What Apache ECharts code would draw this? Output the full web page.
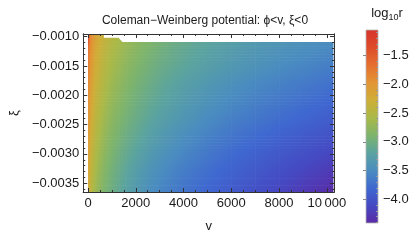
<!DOCTYPE html>
<html><head><meta charset="utf-8">
<script src="https://cdn.jsdelivr.net/npm/echarts@6/dist/echarts.min.js"></script>
<style>html,body{margin:0;padding:0;background:#fff}#c{width:418px;height:248px}</style>
</head><body><div id="c"></div>
<script>
// ---- data ----
const vNodes  = [0, 60, 150, 250, 400, 600, 800, 1000, 1300, 1600, 2000, 2500, 3000, 3500, 4000, 5000, 6000, 7000, 8000, 9000, 10000, 10250];
const xiNodes = [-0.00365, -0.0033, -0.0030, -0.0027, -0.0024, -0.0021, -0.0018, -0.0015, -0.0012, -0.00097];
const logR_xi00365 = [-2.20,-2.35,-2.50,-2.62,-2.74,-2.86,-2.95,-3.02,-3.13,-3.23,-3.33,-3.45,-3.55,-3.63,-3.70,-3.82,-3.93,-4.04,-4.14,-4.25,-4.36,-4.40];
const logR_xi0033  = [-2.12,-2.30,-2.44,-2.56,-2.68,-2.80,-2.90,-2.97,-3.07,-3.17,-3.27,-3.39,-3.48,-3.56,-3.63,-3.75,-3.86,-3.95,-4.05,-4.14,-4.23,-4.26];
const logR_xi0030  = [-2.05,-2.24,-2.38,-2.50,-2.62,-2.74,-2.84,-2.91,-3.01,-3.10,-3.20,-3.31,-3.40,-3.48,-3.55,-3.67,-3.78,-3.87,-3.96,-4.04,-4.12,-4.14];
const logR_xi0027  = [-1.98,-2.18,-2.32,-2.44,-2.56,-2.68,-2.78,-2.85,-2.94,-3.03,-3.12,-3.23,-3.32,-3.40,-3.47,-3.59,-3.69,-3.78,-3.86,-3.94,-4.01,-4.03];
const logR_xi0024  = [-1.92,-2.13,-2.26,-2.38,-2.50,-2.62,-2.72,-2.79,-2.88,-2.96,-3.05,-3.15,-3.24,-3.31,-3.38,-3.50,-3.60,-3.68,-3.76,-3.83,-3.90,-3.92];
const logR_xi0021  = [-1.86,-2.07,-2.20,-2.32,-2.44,-2.56,-2.66,-2.73,-2.82,-2.90,-2.99,-3.09,-3.17,-3.24,-3.31,-3.42,-3.52,-3.60,-3.67,-3.74,-3.81,-3.82];
const logR_xi0018  = [-1.80,-2.01,-2.14,-2.26,-2.38,-2.50,-2.60,-2.67,-2.76,-2.84,-2.93,-3.02,-3.11,-3.18,-3.24,-3.35,-3.44,-3.52,-3.59,-3.65,-3.71,-3.73];
const logR_xi0015  = [-1.72,-1.94,-2.08,-2.20,-2.32,-2.44,-2.54,-2.61,-2.70,-2.78,-2.87,-2.96,-3.04,-3.10,-3.16,-3.26,-3.35,-3.42,-3.49,-3.55,-3.61,-3.62];
const logR_xi0012  = [-1.60,-1.86,-2.01,-2.14,-2.26,-2.38,-2.48,-2.55,-2.64,-2.72,-2.81,-2.90,-2.98,-3.05,-3.11,-3.21,-3.29,-3.36,-3.42,-3.47,-3.52,-3.53];
const logR_xi00097 = [-1.06,-1.76,-1.94,-2.07,-2.20,-2.32,-2.42,-2.49,-2.58,-2.66,-2.74,-2.83,-2.91,-2.98,-3.04,-3.14,-3.22,-3.29,-3.35,-3.40,-3.45,-3.46];
const logRRows = [logR_xi00365, logR_xi0033, logR_xi0030, logR_xi0027, logR_xi0024, logR_xi0021, logR_xi0018, logR_xi0015, logR_xi0012, logR_xi00097];
// upper edge of the computed region (region above is empty)
const edgeV  = [665, 665, 1280, 1440, 10300, 10300];
const edgeXi = [-0.00097, -0.00102, -0.00102, -0.00109, -0.00109, -0.00097];
// ticks
const xMajor = [0, 2000, 4000, 6000, 8000, 10000];
const yMajor = [-0.0035, -0.0030, -0.0025, -0.0020, -0.0015, -0.0010];
const cbMajor = [-4.0, -3.5, -3.0, -2.5, -2.0, -1.5];
const cbMin = -4.41, cbMax = -1.06;
const palette = ['#5b2aa5','#4549c2','#3f68d0','#4a8cc0','#5aa3a0','#7db46c','#aab948','#ceae38','#e39434','#e56e2e','#de4c2b','#d6332a'];
const titleText = 'Coleman\u2212Weinberg potential: \u03d5<v, \u03be<0';

// ---- helpers ----
const xMin = -200, xMax = 10300, yMin = -0.00365, yMax = -0.000955;
const xMinor = []; for (let v = 500; v < 10300; v += 500) if (v % 2000) xMinor.push(v);
const yMinor = []; for (let k = 36; k >= 10; k--) if (k % 5) yMinor.push(-k / 10000);
const cbMinor = []; for (let k = 44; k >= 11; k--) if (k % 5) cbMinor.push(-k / 10);
const FONT = '"Liberation Sans", Arial, sans-serif';
const rgbPal = palette.map(h => [parseInt(h.slice(1,3),16), parseInt(h.slice(3,5),16), parseInt(h.slice(5,7),16)]);
function colorOf(val) {
  let t = (val - cbMin) / (cbMax - cbMin); t = Math.max(0, Math.min(1, t));
  const f = t * (rgbPal.length - 1); const i = Math.min(rgbPal.length - 2, Math.floor(f)); const u = f - i;
  const a = rgbPal[i], b = rgbPal[i+1];
  return 'rgb(' + [0,1,2].map(k => Math.round(a[k] + (b[k]-a[k]) * u)).join(',') + ')';
}
const lerp = (a, b, t) => a + (b - a) * t;
const frame = '#333';
function ax(o) {
  return Object.assign({type: 'value', z: 10, splitLine: {show: false},
    axisLine: {show: true, onZero: false, lineStyle: {color: frame, width: 1}},
    axisLabel: {show: false}, axisTick: {show: false}}, o);
}
const fmtX = v => v === 10000 ? '10\u2009000' : String(v);
const fmtY = v => '\u2212' + Math.abs(v).toFixed(4);
const fmtCb = v => '\u2212' + Math.abs(v).toFixed(1);
const lab = {show: true, fontSize: 13, color: '#1a1a1a', fontFamily: FONT};

const cells = [];
for (let j = 0; j < xiNodes.length - 1; j++)
  for (let i = 0; i < vNodes.length - 1; i++) cells.push([vNodes[i], xiNodes[j], i, j]);

const NSUB = 6;
const chart = echarts.init(document.getElementById('c'), null, {renderer: 'canvas'});
chart.setOption({
  animation: false,
  backgroundColor: '#fff',
  grid: [
    {left: 76, top: 34, width: 258, height: 158},
    {left: 366, top: 30, width: 12, height: 193}
  ],
  xAxis: [
    ax({gridIndex: 0, position: 'bottom', min: xMin, max: xMax,
        axisTick: {show: true, inside: true, length: 4, customValues: xMajor, lineStyle: {color: frame}},
        axisLabel: Object.assign({customValues: xMajor, formatter: fmtX, margin: 5}, lab),
        name: 'v', nameLocation: 'middle', nameGap: 28, nameTextStyle: {fontSize: 13, color: '#1a1a1a', fontFamily: FONT}}),
    ax({gridIndex: 0, position: 'bottom', min: xMin, max: xMax,
        axisTick: {show: true, inside: true, length: 2, customValues: xMinor, lineStyle: {color: frame}}}),
    ax({gridIndex: 0, position: 'top', min: xMin, max: xMax,
        axisTick: {show: true, inside: true, length: 4, customValues: xMajor, lineStyle: {color: frame}}}),
    ax({gridIndex: 0, position: 'top', min: xMin, max: xMax,
        axisTick: {show: true, inside: true, length: 2, customValues: xMinor, lineStyle: {color: frame}}}),
    {type: 'value', gridIndex: 1, min: 0, max: 1, show: false}
  ],
  yAxis: [
    ax({gridIndex: 0, position: 'left', min: yMin, max: yMax,
        axisTick: {show: true, inside: true, length: 4, customValues: yMajor, lineStyle: {color: frame}},
        axisLabel: Object.assign({customValues: yMajor, formatter: fmtY, margin: 4}, lab),
        name: '\u03be', nameLocation: 'middle', nameRotate: 90, nameGap: 61, nameTextStyle: {fontSize: 13, color: '#1a1a1a', fontFamily: FONT}}),
    ax({gridIndex: 0, position: 'left', min: yMin, max: yMax,
        axisTick: {show: true, inside: true, length: 2, customValues: yMinor, lineStyle: {color: frame}}}),
    ax({gridIndex: 0, position: 'right', min: yMin, max: yMax,
        axisTick: {show: true, inside: true, length: 4, customValues: yMajor, lineStyle: {color: frame}}}),
    ax({gridIndex: 0, position: 'right', min: yMin, max: yMax,
        axisTick: {show: true, inside: true, length: 2, customValues: yMinor, lineStyle: {color: frame}}}),
    ax({gridIndex: 1, position: 'right', min: cbMin, max: cbMax,
        axisLine: {show: false},
        axisTick: {show: true, inside: true, length: 3, customValues: cbMajor, lineStyle: {color: '#888'}},
        axisLabel: Object.assign({customValues: cbMajor, formatter: fmtCb, margin: 5}, lab)}),
    ax({gridIndex: 1, position: 'right', min: cbMin, max: cbMax,
        axisLine: {show: false},
        axisTick: {show: true, inside: true, length: 2, customValues: cbMinor, lineStyle: {color: '#999'}}})
  ],
  series: [
    {
      type: 'custom', xAxisIndex: 0, yAxisIndex: 0, clip: true, silent: true, z: 2,
      data: cells, encode: {x: 0, y: 1},
      renderItem: function (params, api) {
        const i = api.value(2), j = api.value(3);
        const pBL = api.coord([vNodes[i], xiNodes[j]]);
        const pTR = api.coord([vNodes[i+1], xiNodes[j+1]]);
        const x0 = pBL[0], x1 = pTR[0], yb = pBL[1], yt = pTR[1];
        const h = (yb - yt) / NSUB;
        const children = [];
        for (let k = 0; k < NSUB; k++) {
          const t = (k + 0.5) / NSUB;
          const lv = lerp(logRRows[j][i], logRRows[j+1][i], t);
          const rv = lerp(logRRows[j][i+1], logRRows[j+1][i+1], t);
          const stops = [0, 0.25, 0.5, 0.75, 1].map(o => ({offset: o, color: colorOf(lerp(lv, rv, o))}));
          children.push({type: 'rect', shape: {x: x0, y: yb - (k + 1) * h, width: x1 - x0 + 0.6, height: h + 0.6},
            style: {fill: {type: 'linear', x: 0, y: 0, x2: 1, y2: 0, colorStops: stops}}});
        }
        return {type: 'group', children: children};
      }
    },
    {
      type: 'custom', xAxisIndex: 0, yAxisIndex: 0, clip: true, silent: true, z: 3,
      data: [[edgeV[0], edgeXi[0]]], encode: {x: 0, y: 1},
      renderItem: function (params, api) {
        const pts = edgeV.map((v, k) => api.coord([v, edgeXi[k]]));
        return {type: 'polygon', shape: {points: pts}, style: {fill: '#fff'}};
      }
    },
    {
      type: 'custom', xAxisIndex: 4, yAxisIndex: 4, silent: true, z: 2,
      data: [[0, cbMin]], encode: {x: 0, y: 1},
      renderItem: function (params, api) {
        const p0 = api.coord([0, cbMin]), p1 = api.coord([1, cbMax]);
        const stops = palette.map((c, k) => ({offset: k / (palette.length - 1), color: c}));
        return {type: 'rect', shape: {x: p0[0], y: p1[1], width: p1[0] - p0[0], height: p0[1] - p1[1]},
          style: {fill: {type: 'linear', x: 0, y: 1, x2: 0, y2: 0, colorStops: stops}, stroke: '#b5b5b5', lineWidth: 0.8}};
      }
    }
  ],
  graphic: [
    {type: 'text', x: 205, y: 21, z: 20, style: {text: titleText, font: '12px ' + FONT, fill: '#1a1a1a',
      align: 'center', verticalAlign: 'middle', textAlign: 'center', textVerticalAlign: 'middle'}},
    {type: 'text', x: 387, y: 13, z: 20, style: {text: '{a|log}{b|10}{a|r}', align: 'center', verticalAlign: 'middle',
      textAlign: 'center', textVerticalAlign: 'middle', fill: '#1a1a1a', font: '13px ' + FONT,
      rich: {a: {fontSize: 13, fontFamily: FONT, lineHeight: 18, verticalAlign: 'middle', fill: '#1a1a1a'},
             b: {fontSize: 9, fontFamily: FONT, lineHeight: 18, verticalAlign: 'bottom', fill: '#1a1a1a'}}}}
  ]
});
</script>
</body></html>
